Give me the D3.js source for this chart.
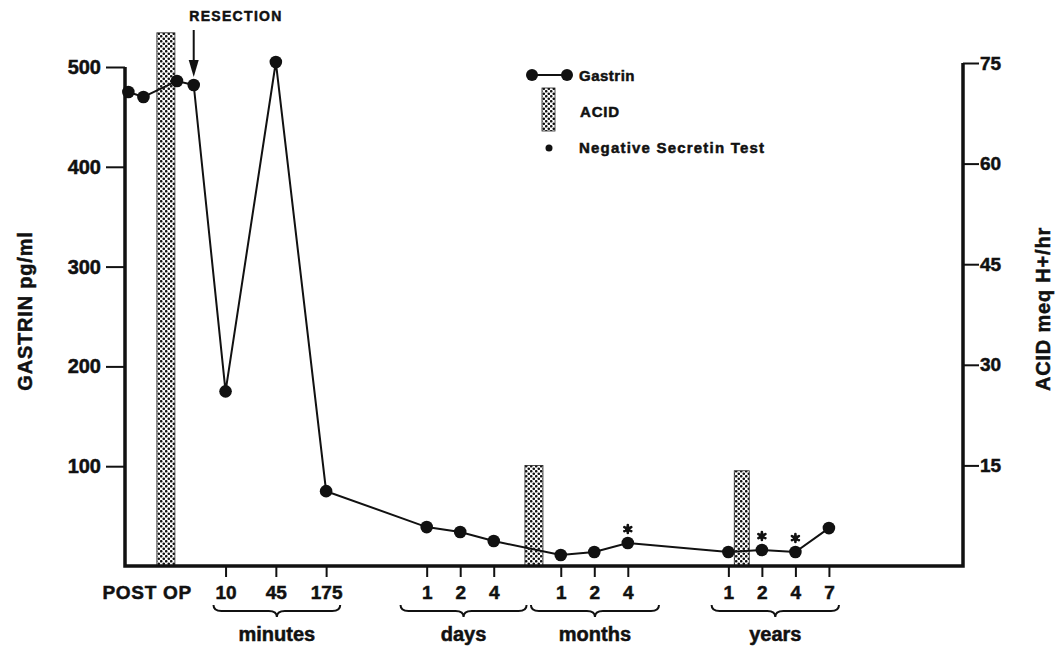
<!DOCTYPE html>
<html>
<head>
<meta charset="utf-8">
<script src="https://cdn.jsdelivr.net/npm/d3@7"></script>
<style>
	body { margin: 0; background: #fff; }
	text { font-family: 'Liberation Sans', Arial, sans-serif; font-weight: bold; fill: #111; stroke: #111; stroke-width: 0.5; }
</style>
</head>
<body>
<div id="chart"></div>
<script>
// timeline position of each gastrin sample (in axis slots) and its value, pg/ml
const gastrinSlot = [0.1, 0.55, 1.55, 2.05, 3, 4.5, 6, 9, 10, 11, 13, 14, 15, 18, 19, 20, 21];
const gastrinValues = [475, 470, 486, 482, 175, 505, 75, 39, 34, 25, 11, 14, 23, 14, 16, 14, 38];
// samples with a negative secretin test
const negativeSecretinSlot = [15, 19, 20];
const negativeSecretinValues = [23, 16, 14];
// acid output bars, meq H+/hr
const acidSlot = [1.22, 12.2, 18.4];
const acidValues = [79.5, 15, 14.2];
// x axis
const tickSlots = [3, 4.5, 6, 9, 10, 11, 13, 14, 15, 18, 19, 20, 21];
const tickLabels = ['10', '45', '175', '1', '2', '4', '1', '2', '4', '1', '2', '4', '7'];
const groupNames = ['minutes', 'days', 'months', 'years'];
const groupFrom = [2.64, 8.22, 12.11, 17.5];
const groupTo = [6.42, 11.98, 15.93, 21.3];
const gastrinTicks = [100, 200, 300, 400, 500];
const acidTicks = [15, 30, 45, 60, 75];

const width = 1063, height = 648;
const svg = d3.select('#chart').append('svg').attr('width', width).attr('height', height);

const x = d3.scaleLinear().domain([0, 25]).range([125, 963]);
const y = d3.scaleLinear().domain([0, 500]).range([566, 67]);
const yAcid = d3.scaleLinear().domain([0, 75]).range([566, 63]);

// stipple pattern for acid bars
const pat = svg.append('defs').append('pattern')
	.attr('id', 'stipple').attr('patternUnits', 'userSpaceOnUse')
	.attr('width', 5).attr('height', 5);
pat.append('rect').attr('width', 5).attr('height', 5).attr('fill', '#fff');
pat.append('circle').attr('cx', 1.25).attr('cy', 1.25).attr('r', 1.3).attr('fill', '#111');
pat.append('circle').attr('cx', 3.75).attr('cy', 3.75).attr('r', 1.3).attr('fill', '#111');

const barW = [18, 18, 15];
svg.append('g').selectAll('rect')
	.data(acidValues)
	.enter()
	.append('rect')
	.attr('x', (d, i) => x(acidSlot[i]) - barW[i] / 2)
	.attr('width', (d, i) => barW[i])
	.attr('y', (d) => yAcid(d))
	.attr('height', (d) => yAcid(0) - yAcid(d))
	.attr('fill', 'url(#stipple)')
	.attr('stroke', '#222')
	.attr('stroke-width', 0.8);

// frame: left axis, baseline, right axis
svg.append('path')
	.attr('d', `M${x(0)},${y(500)} L${x(0)},${y(0)} L${x(25)},${y(0)} L${x(25)},${yAcid(75)}`)
	.attr('fill', 'none').attr('stroke', '#111').attr('stroke-width', 3.5);

const left = svg.append('g').attr('transform', `translate(${x(0)},0)`)
	.call(d3.axisLeft(y).tickValues(gastrinTicks).tickSize(19).tickPadding(5));
left.select('.domain').remove();
left.selectAll('line').attr('stroke', '#111').attr('stroke-width', 2);
left.selectAll('text').attr('font-size', 20).attr('fill', '#111').attr('font-family', null);

const right = svg.append('g').attr('transform', `translate(${x(25)},0)`)
	.call(d3.axisRight(yAcid).tickValues(acidTicks).tickSize(16).tickPadding(1));
right.select('.domain').remove();
right.selectAll('line').attr('stroke', '#111').attr('stroke-width', 2);
right.selectAll('text').attr('font-size', 19).attr('fill', '#111').attr('font-family', null);

const bottom = svg.append('g').attr('transform', `translate(0,${y(0)})`)
	.call(d3.axisBottom(x).tickValues(tickSlots).tickSize(11).tickPadding(9)
		.tickFormat((d, i) => tickLabels[i]));
bottom.select('.domain').remove();
bottom.selectAll('line').attr('stroke', '#111').attr('stroke-width', 2);
bottom.selectAll('text').attr('font-size', 19).attr('fill', '#111').attr('font-family', null);

svg.append('text').attr('x', x(0.66)).attr('y', 599).attr('text-anchor', 'middle')
	.attr('font-size', 19).attr('letter-spacing', 0.7).text('POST OP');

// braces under the groups
const brace = (a, b, top) => {
	const m = (a + b) / 2, h = 6, r = 8;
	return `M${a},${top} Q${a},${top + h} ${a + r},${top + h} L${m - r},${top + h} Q${m},${top + h} ${m},${top + 2 * h}` +
		` Q${m},${top + h} ${m + r},${top + h} L${b - r},${top + h} Q${b},${top + h} ${b},${top}`;
};
groupNames.forEach((name, i) => {
	svg.append('path').attr('d', brace(x(groupFrom[i]), x(groupTo[i]), 605))
		.attr('fill', 'none').attr('stroke', '#111').attr('stroke-width', 2);
	svg.append('text').attr('x', x((groupFrom[i] + groupTo[i]) / 2)).attr('y', 641)
		.attr('text-anchor', 'middle').attr('font-size', 20).text(name);
});

// gastrin line
const line = d3.line().x((d, i) => x(gastrinSlot[i])).y((d) => y(d));
svg.append('path').datum(gastrinValues).attr('d', line)
	.attr('fill', 'none').attr('stroke', '#111').attr('stroke-width', 2);
svg.append('g').selectAll('circle')
	.data(gastrinValues)
	.enter()
	.append('circle')
	.attr('cx', (d, i) => x(gastrinSlot[i]))
	.attr('cy', (d) => y(d))
	.attr('r', 6.3)
	.attr('fill', '#111');

// negative secretin test marks
const ast = d3.symbol().type(d3.symbolAsterisk).size(45);
const astG = svg.append('g').selectAll('g')
	.data(negativeSecretinValues)
	.enter()
	.append('g')
	.attr('transform', (d, i) => `translate(${x(negativeSecretinSlot[i])},${y(d) - 14})`);
astG.append('path').attr('d', ast).attr('fill', 'none').attr('stroke', '#111')
	.attr('stroke-width', 2.6).attr('stroke-linecap', 'round');
astG.append('circle').attr('r', 2.8).attr('fill', '#111');

// resection arrow
svg.append('text').attr('x', 236).attr('y', 21).attr('text-anchor', 'middle')
	.attr('font-size', 14).attr('letter-spacing', 1.3).text('RESECTION');
svg.append('line').attr('x1', x(2.05)).attr('x2', x(2.05)).attr('y1', 30).attr('y2', 64)
	.attr('stroke', '#111').attr('stroke-width', 2);
svg.append('path')
	.attr('d', `M${x(2.05) - 5},60 L${x(2.05) + 5},60 L${x(2.05)},77 Z`)
	.attr('fill', '#111');

// legend
const lg = svg.append('g');
lg.append('line').attr('x1', 532).attr('x2', 567).attr('y1', 75).attr('y2', 75)
	.attr('stroke', '#111').attr('stroke-width', 2);
lg.selectAll('circle').data([532, 567]).enter().append('circle')
	.attr('cx', (d) => d).attr('cy', 75).attr('r', 6).attr('fill', '#111');
lg.append('text').attr('x', 579).attr('y', 81).attr('font-size', 15).attr('letter-spacing', 0.5).text('Gastrin');
lg.append('rect').attr('x', 542).attr('y', 88).attr('width', 13).attr('height', 43)
	.attr('fill', 'url(#stipple)').attr('stroke', '#222').attr('stroke-width', 0.8);
lg.append('text').attr('x', 580).attr('y', 117).attr('font-size', 15).attr('letter-spacing', 0.8).text('ACID');
lg.append('circle').attr('cx', 549).attr('cy', 148).attr('r', 3.5).attr('fill', '#111');
lg.append('text').attr('x', 579).attr('y', 153).attr('font-size', 15).attr('letter-spacing', 1.2).text('Negative Secretin Test');

// axis titles
svg.append('text').attr('transform', 'translate(32,311) rotate(-90)').attr('text-anchor', 'middle')
	.attr('font-size', 20).attr('letter-spacing', 0.8).text('GASTRIN pg/ml');
svg.append('text').attr('transform', 'translate(1050,309) rotate(-90)').attr('text-anchor', 'middle')
	.attr('font-size', 20).attr('letter-spacing', 0.8).text('ACID meq H+/hr');
</script>
</body>
</html>
